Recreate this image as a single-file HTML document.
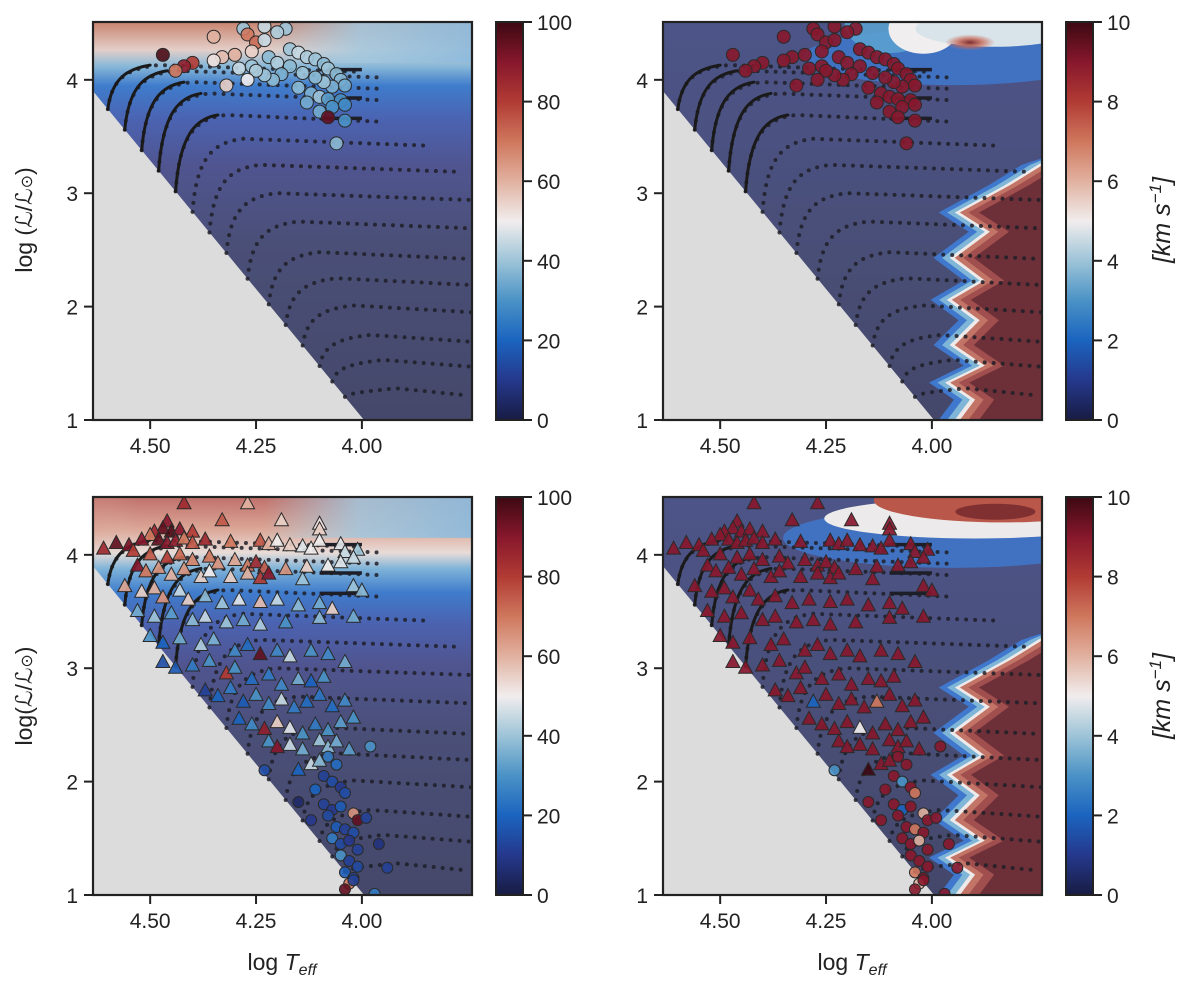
<!DOCTYPE html>
<html><head><meta charset="utf-8">
<style>
html,body{margin:0;padding:0;background:#fff;}
svg{display:block;font-family:"Liberation Sans",sans-serif;}
.tk{font-size:21px;fill:#222;}
</style></head>
<body>
<svg id="fig" width="1200" height="995" viewBox="0 0 1200 995" xmlns="http://www.w3.org/2000/svg">
<defs>
<linearGradient id="cmapV" x1="0" y1="1" x2="0" y2="0">
<stop offset="0" stop-color="#181c43"/><stop offset="0.1" stop-color="#25388c"/><stop offset="0.2" stop-color="#1b64bf"/><stop offset="0.3" stop-color="#4a92c6"/><stop offset="0.4" stop-color="#9dc4d8"/><stop offset="0.5" stop-color="#f1eded"/><stop offset="0.6" stop-color="#e1b1a0"/><stop offset="0.7" stop-color="#cf775d"/><stop offset="0.8" stop-color="#b13b34"/><stop offset="0.9" stop-color="#87172c"/><stop offset="1" stop-color="#3c0912"/>
</linearGradient>
<linearGradient id="bgL" x1="0" y1="0" x2="0" y2="1">
<stop offset="0" stop-color="#c98470"/><stop offset="0.07" stop-color="#e4cfc8"/><stop offset="0.11" stop-color="#8ab9d8"/><stop offset="0.16" stop-color="#3f7ccc"/><stop offset="0.25" stop-color="#4b62b0"/><stop offset="0.36" stop-color="#505590"/><stop offset="0.55" stop-color="#4a4f78"/><stop offset="1" stop-color="#45486a"/>
</linearGradient>
<linearGradient id="bgL2" x1="0" y1="0" x2="0" y2="1">
<stop offset="0" stop-color="#c0706a"/><stop offset="0.08" stop-color="#dba696"/><stop offset="0.14" stop-color="#e8dcd8"/><stop offset="0.18" stop-color="#7fb3d8"/><stop offset="0.24" stop-color="#3f7ccc"/><stop offset="0.32" stop-color="#4b62b0"/><stop offset="0.42" stop-color="#505590"/><stop offset="0.6" stop-color="#4a4f78"/><stop offset="1" stop-color="#45486a"/>
</linearGradient>
<linearGradient id="topFade" x1="0" y1="0" x2="1" y2="0">
<stop offset="0" stop-color="#9fc6de" stop-opacity="0"/><stop offset="0.45" stop-color="#a8cce0" stop-opacity="0"/><stop offset="0.7" stop-color="#a2c8df" stop-opacity="0.85"/><stop offset="1" stop-color="#8fbbdc" stop-opacity="0.95"/>
</linearGradient>
<linearGradient id="redFade" x1="0" y1="0" x2="1" y2="0">
<stop offset="0" stop-color="#7a2432" stop-opacity="0.95"/><stop offset="0.2" stop-color="#a8404a" stop-opacity="0.7"/><stop offset="0.45" stop-color="#d8907e" stop-opacity="0.3"/><stop offset="0.6" stop-color="#e8dcd8" stop-opacity="0"/>
</linearGradient>
<linearGradient id="bgR" x1="0" y1="0" x2="0" y2="1">
<stop offset="0" stop-color="#4d5588"/><stop offset="0.3" stop-color="#4b5180"/><stop offset="0.6" stop-color="#494e76"/><stop offset="1" stop-color="#44476a"/>
</linearGradient>
<radialGradient id="redSpot"><stop offset="0" stop-color="#7a2a30"/><stop offset="0.5" stop-color="#c86a58" stop-opacity="0.8"/><stop offset="1" stop-color="#c86a58" stop-opacity="0"/></radialGradient>
</defs>
<g id="panels"></g>
<text class="tk" transform="translate(32,220) rotate(-90)" text-anchor="middle" style="font-size:23px">log (ℒ/ℒ<tspan font-size="16">⊙</tspan>)</text>
<text class="tk" transform="translate(32,696) rotate(-90)" text-anchor="middle" style="font-size:23px">log(ℒ/ℒ<tspan font-size="16">⊙</tspan>)</text>
<text class="tk" x="282" y="970" text-anchor="middle" style="font-size:23px">log <tspan font-style="italic">T</tspan><tspan font-style="italic" font-size="16" dy="5">eff</tspan></text>
<text class="tk" x="852" y="970" text-anchor="middle" style="font-size:23px">log <tspan font-style="italic">T</tspan><tspan font-style="italic" font-size="16" dy="5">eff</tspan></text>
<text class="tk" transform="translate(1170,220) rotate(-90)" text-anchor="middle" style="font-size:25px;font-style:italic">[km s<tspan font-size="17" dy="-9">−1</tspan><tspan dy="9">]</tspan></text>
<text class="tk" transform="translate(1170,696) rotate(-90)" text-anchor="middle" style="font-size:25px;font-style:italic">[km s<tspan font-size="17" dy="-9">−1</tspan><tspan dy="9">]</tspan></text>
</svg>
<script>
// ---- data (log Teff, log L, values) ----
const xTicks=[4.50,4.25,4.00];
const yTicks=[1,2,3,4];
const cbTicksV=[0,20,40,60,80,100];
const cbTicksS=[0,2,4,6,8,10];
// top panels: circles
const topT=[4.28,4.23,4.18,4.27,4.25,4.26,4.30,4.33,4.35,4.40,4.42,4.44,4.47,4.29,4.26,4.22,4.20,4.17,4.15,4.13,4.11,4.09,4.08,4.06,4.05,4.04,4.07,4.09,4.11,4.14,4.17,4.19,4.21,4.23,4.25,4.27,4.15,4.12,4.10,4.13,4.08,4.05,4.04,4.07,4.10,4.08,4.04,4.06,4.32,4.23,4.20,4.35];
const topL=[4.45,4.47,4.45,4.40,4.33,4.25,4.22,4.20,4.17,4.15,4.12,4.08,4.22,4.10,4.12,4.20,4.15,4.27,4.24,4.20,4.18,4.14,4.10,4.05,4.00,3.95,3.94,3.98,4.02,4.06,4.12,4.05,4.00,4.04,4.08,4.00,3.93,3.88,3.85,3.80,3.83,3.82,3.78,3.76,3.72,3.67,3.64,3.44,3.95,4.35,4.42,4.38];
const topV=[40,45,40,70,72,55,60,58,52,80,88,70,98,45,40,38,42,40,45,42,40,38,40,38,37,35,36,40,38,40,38,36,38,40,42,50,38,36,40,35,32,30,28,30,35,95,30,38,55,45,42,60];
const topS=[9,9,9,9,9,9,9,9,9,9,9,9,9,9,9,9,9,9,9,9,9,9,9,9,9,9,9,9,9,9,9,9,9,9,9,9,9,9,9,9,9,9,9,9,9,9,9,9,9,9,9,9];
// bottom panels: triangles
const triT=[4.42,4.27,4.46,4.33,4.19,4.10,4.10,4.47,4.45,4.43,4.49,4.40,4.50,4.52,4.48,4.46,4.44,4.42,4.40,4.37,4.31,4.24,4.22,4.20,4.17,4.14,4.12,4.05,4.10,4.04,4.01,4.55,4.58,4.61,4.54,4.50,4.46,4.43,4.40,4.36,4.34,4.30,4.27,4.25,4.23,4.18,4.13,4.08,4.05,4.02,4.53,4.51,4.48,4.45,4.42,4.38,4.36,4.31,4.27,4.24,4.22,4.14,4.02,4.00,4.56,4.52,4.49,4.47,4.43,4.41,4.37,4.33,4.29,4.24,4.20,4.15,4.10,4.07,4.02,4.53,4.49,4.45,4.40,4.37,4.32,4.28,4.24,4.18,4.10,4.50,4.47,4.43,4.38,4.35,4.30,4.27,4.24,4.20,4.17,4.12,4.08,4.04,4.47,4.44,4.40,4.36,4.32,4.30,4.26,4.22,4.19,4.15,4.12,4.09,4.37,4.34,4.31,4.28,4.25,4.22,4.19,4.16,4.13,4.10,4.07,4.04,4.29,4.26,4.23,4.20,4.17,4.14,4.11,4.08,4.05,4.02,4.22,4.20,4.17,4.14,4.10,4.08,4.06,4.03,4.12,4.10,4.15];
const triL=[4.45,4.45,4.29,4.30,4.30,4.27,4.22,4.23,4.20,4.22,4.20,4.20,4.17,4.13,4.13,4.10,4.12,4.14,4.10,4.13,4.11,4.12,4.09,4.12,4.08,4.07,4.05,4.09,4.12,4.02,4.04,4.08,4.10,4.05,4.03,4.00,3.97,4.00,3.95,3.98,3.92,3.95,3.90,3.93,3.88,3.87,3.89,3.90,3.93,3.97,3.90,3.85,3.88,3.82,3.87,3.80,3.85,3.80,3.83,3.79,3.83,3.78,3.72,3.68,3.72,3.67,3.70,3.62,3.68,3.60,3.63,3.57,3.60,3.58,3.60,3.55,3.57,3.52,3.45,3.50,3.45,3.48,3.42,3.45,3.40,3.42,3.38,3.40,3.44,3.28,3.22,3.26,3.20,3.25,3.15,3.20,3.12,3.15,3.10,3.15,3.12,3.05,3.05,3.00,3.02,3.06,2.95,3.00,2.90,2.94,2.85,2.90,2.88,2.92,2.80,2.75,2.82,2.70,2.76,2.68,2.72,2.65,2.70,2.76,2.66,2.71,2.55,2.50,2.46,2.52,2.47,2.42,2.50,2.45,2.52,2.56,2.35,2.30,2.32,2.28,2.36,2.30,2.35,2.28,2.15,2.18,2.10];
const triV=[85,60,90,75,55,52,55,95,98,90,85,80,70,90,95,90,88,70,75,85,70,75,60,50,55,48,50,48,50,45,40,92,95,85,80,75,80,72,68,70,65,62,70,85,75,65,55,50,48,45,90,70,65,60,65,55,50,55,60,80,90,40,40,38,62,55,60,65,45,55,38,40,48,58,45,38,35,55,35,35,40,32,38,45,40,35,42,30,38,30,20,35,42,36,28,22,95,28,45,30,28,35,15,18,25,30,80,30,22,25,28,35,20,30,12,20,25,18,30,28,45,25,22,24,22,28,20,28,88,55,48,30,25,30,32,30,30,90,45,35,40,38,35,32,45,38,20];
const triS=[9,9,9,9,9,9,9,9,9,9,9,9,9,9,9,9,9,9,9,9,9,9,9,9,9,9,9,9,9,9,9,9,9,9,9,9,9,9,9,9,9,9,9,9,9,9,9,9,9,9,9,9,9,9,9,9,9,9,9,9,9,9,9,9,9,9,9,9,9,9,9,9,9,9,9,9,9,9,9,9,9,9,9,9,9,9,9,9,9,9,9,9,9,9,9,9,9,9,9,9,9,9,9,9,9,9,9,9,9,9,9,9,9,9,9,9,9,2,9,9,9,9,7,9,9,9,9,9,9,9,5,9,9,9,9,9,9,9,9,9,9,9,9,9,9,9];
// bottom panels: circles
const circT=[3.98,4.23,4.08,4.06,4.09,4.07,4.05,4.11,4.04,4.15,4.09,4.07,4.05,4.02,4.01,3.99,4.12,4.08,4.06,4.04,4.02,4.07,4.05,4.03,4.01,3.96,4.05,4.03,4.01,3.94,4.04,4.02,4.03,4.02,4.04,3.97];
const circL=[2.31,2.10,2.22,2.15,2.05,2.00,1.95,1.93,1.90,1.82,1.80,1.75,1.78,1.72,1.66,1.68,1.66,1.70,1.60,1.58,1.55,1.50,1.45,1.48,1.40,1.45,1.35,1.30,1.25,1.24,1.20,1.15,1.10,1.13,1.05,1.01];
const circV=[30,15,25,22,12,15,10,20,15,5,12,10,18,65,95,12,10,14,18,12,15,25,14,10,12,8,30,12,14,12,18,14,70,12,95,25];
const circS=[9,3,9,9,9,3,9,9,7,9,9,2,9,6,9,9,9,9,9,7,9,9,9,6,9,9,9,9,9,9,7,9,6,9,9,9];
// evolutionary tracks
const trkStartT=[4.60,4.56,4.52,4.48,4.44,4.40,4.36,4.32,4.27,4.22,4.18,4.14,4.10,4.07,4.04];
const trkEndL=[4.10,4.05,3.95,3.85,3.66,3.45,3.22,2.97,2.72,2.45,2.22,1.98,1.72,1.50,1.25];
const trkEndT=[4.00,3.95,3.95,3.95,3.95,3.85,3.78,3.74,3.74,3.74,3.74,3.74,3.74,3.74,3.76];
// right-panel zigzag boundary of high-velocity region
const zigT=[3.738,3.816,3.934,3.863,3.946,3.875,3.953,3.887,3.946,3.875,3.957,3.898,3.934];
const zigL=[3.25,3.07,2.83,2.66,2.43,2.23,2.06,1.88,1.66,1.48,1.33,1.18,1.00];

const NS='http://www.w3.org/2000/svg';
const stops=[[0,'#181c43'],[0.1,'#25388c'],[0.2,'#1b64bf'],[0.3,'#4a92c6'],[0.4,'#9dc4d8'],[0.5,'#f1eded'],[0.6,'#e1b1a0'],[0.7,'#cf775d'],[0.8,'#b13b34'],[0.9,'#87172c'],[1,'#3c0912']];
function hx(c){return [1,3,5].map(i=>parseInt(c.substr(i,2),16));}
function cmap(f){f=Math.max(0,Math.min(1,f));for(let i=1;i<stops.length;i++){if(f<=stops[i][0]){const a=stops[i-1],b=stops[i];const u=(f-a[0])/(b[0]-a[0]);const ca=hx(a[1]),cb=hx(b[1]);return 'rgb('+ca.map((v,k)=>Math.round(v+(cb[k]-v)*u)).join(',')+')';}}return stops[stops.length-1][1];}
function mk(tag,attrs,parent){const e=document.createElementNS(NS,tag);for(const k in attrs)e.setAttribute(k,attrs[k]);parent.appendChild(e);return e;}

const W=379,H=398,T0=4.635,T1=3.74,L0=1.0,L1=4.51;
const root=document.getElementById('panels');

function panel(x0,y0,kind,bottom,idx){
  const xs=t=>x0+(T0-t)/(T0-T1)*W;
  const ys=l=>y0+(L1-l)/(L1-L0)*H;
  const g=mk('g',{},root);
  
  
  const cp=mk('clipPath',{id:'cp'+idx},g);
  mk('rect',{x:x0,y:y0,width:W,height:H},cp);
  const pg=mk('g',{'clip-path':'url(#cp'+idx+')'},g);
  if(kind==='v'){
    const bg=mk('rect',{x:x0,y:y0,width:W,height:H,fill:bottom?'url(#bgL2)':'url(#bgL)'},pg);
    
    
    mk('rect',{x:x0,y:y0,width:W,height:(L1-4.15)/(L1-L0)*H,fill:'url(#topFade)'},pg);
    if(bottom){mk('ellipse',{cx:x0,cy:y0,rx:230,ry:55,fill:'url(#redFade)'},pg);}
  } else {
    const bg=mk('rect',{x:x0,y:y0,width:W,height:H,fill:'url(#bgR)'},pg);
    
    
    if(!bottom){
      mk('ellipse',{cx:xs(3.95),cy:ys(4.2),rx:150,ry:28,fill:'#3f78cc',opacity:0.85},pg);
      mk('ellipse',{cx:xs(4.1),cy:ys(4.5),rx:45,ry:30,fill:'#5aa0d0',opacity:0.9},pg);
      mk('ellipse',{cx:xs(4.02),cy:ys(4.45),rx:35,ry:25,fill:'#f0eeee'},pg);
      mk('ellipse',{cx:xs(3.85),cy:ys(4.45),rx:80,ry:18,fill:'#d8e4ea'},pg);
      mk('ellipse',{cx:xs(3.91),cy:ys(4.33),rx:25,ry:8,fill:'url(#redSpot)'},pg);
    } else {
      mk('ellipse',{cx:xs(3.95),cy:ys(4.15),rx:170,ry:30,fill:'#3f78cc',opacity:0.85},pg);
      mk('ellipse',{cx:xs(3.9),cy:ys(4.32),rx:150,ry:20,fill:'#eceaea'},pg);
      mk('ellipse',{cx:xs(3.83),cy:ys(4.48),rx:130,ry:22,fill:'#b9584a'},pg);
      mk('ellipse',{cx:xs(3.85),cy:ys(4.38),rx:40,ry:8,fill:'#6a2028',opacity:0.7},pg);
    }
    const layers=[[0.05,'#3f78cc'],[0.03,'#7fb6d8'],[0.012,'#efeaea'],[0,'#c27566'],[-0.02,'#a04e4e'],[-0.045,'#6e3038']];
    layers.forEach(([off,col])=>{
      let d='M'+xs(T1-0.05)+','+ys(zigL[0]+0.12);
      for(let i=0;i<zigT.length;i++){d+=' L'+xs(zigT[i]+off)+','+ys(zigL[i]);}
      d+=' L'+xs(zigT[zigT.length-1]+off)+','+ys(0.8)+' L'+xs(T1-0.05)+','+ys(0.8)+'Z';
      const p=mk('path',{d:d,fill:col},pg);
      
      
    });
  }
  const tri=mk('polygon',{points:xs(T0+0.02)+','+ys(3.9)+' '+xs(T0+0.02)+','+ys(0.9)+' '+xs(3.995)+','+ys(1.0)+' '+xs(4.635)+','+ys(3.9),fill:'#dcdcdc'},pg);
  
  
  const edgeL=t=>1+(t-3.995)/0.64*2.9;
  for(let i=0;i<trkStartT.length;i++){
    const t0=trkStartT[i],le=edgeL(t0),Le=trkEndL[i];
    const d='M'+xs(t0)+','+ys(le)+' C'+xs(t0-0.01)+','+ys(le+(Le-le)*0.8)+' '+xs(t0-0.05)+','+ys(Le)+' '+xs(t0-0.12)+','+ys(Le+0.03)+' L'+xs(trkEndT[i])+','+ys(Le-0.03);
    const p=mk('path',{d:d,fill:'none',stroke:'#1e1e28','stroke-width':4,'stroke-linecap':'round','stroke-dasharray':'0 9',opacity:0.85},pg);
    
    
    if(i<5){
      const d2='M'+xs(t0)+','+ys(le)+' C'+xs(t0-0.01)+','+ys(le+(Le-le)*0.8)+' '+xs(t0-0.05)+','+ys(Le)+' '+xs(t0-0.1)+','+ys(Le+0.03);
      mk('path',{d:d2,fill:'none',stroke:'#1a1a1a','stroke-width':3,'stroke-linecap':'round'},pg);
    }
  }
  [[4.09],[3.84],[3.66]].forEach(([l])=>{mk('line',{x1:xs(4.10),y1:ys(l),x2:xs(4.0),y2:ys(l),stroke:'#1e1e28','stroke-width':3.5},pg);});
  const vmax=kind==='v'?100:10;
  const drawC=(T,L,V,r)=>{for(let i=0;i<T.length;i++){const c=mk('circle',{cx:xs(T[i]),cy:ys(L[i]),r:r,fill:cmap(V[i]/vmax),stroke:'#2a2a2a','stroke-width':1,'fill-opacity':0.9},pg);}};
  const drawT=(T,L,V)=>{for(let i=0;i<T.length;i++){const x=xs(T[i]),y=ys(L[i]);const p=mk('polygon',{points:(x-7)+','+(y+5)+' '+(x+7)+','+(y+5)+' '+x+','+(y-8),fill:cmap(V[i]/vmax),stroke:'#2a2a2a','stroke-width':1,'fill-opacity':0.92},pg);}};
  if(!bottom){drawC(topT,topL,kind==='v'?topV:topS,6.5);}
  else {drawT(triT,triL,kind==='v'?triV:triS);drawC(circT,circL,kind==='v'?circV:circS,5.5);}
  const fr=mk('rect',{x:x0,y:y0,width:W,height:H,fill:'none',stroke:'#222','stroke-width':2.2},g);
  
  
  xTicks.forEach(t=>{const x=xs(t);mk('line',{x1:x,y1:y0+H,x2:x,y2:y0+H+9,stroke:'#222','stroke-width':2},g);
    const tx=mk('text',{x:x,y:y0+H+33,'text-anchor':'middle',class:'tk'},g);tx.textContent=t.toFixed(2);
    });
  yTicks.forEach(l=>{const y=ys(l);mk('line',{x1:x0-9,y1:y,x2:x0,y2:y,stroke:'#222','stroke-width':2},g);
    const tx=mk('text',{x:x0-15,y:y+8,'text-anchor':'end',class:'tk'},g);tx.textContent=l;
    });
  const cx=x0+403,cw=27;
  const cb=mk('rect',{x:cx,y:y0,width:cw,height:H,fill:'url(#cmapV)',stroke:'#222','stroke-width':2},g);
  
  
  const cbt=kind==='v'?cbTicksV:cbTicksS;
  cbt.forEach(v=>{const y=y0+H-(v/vmax)*H;mk('line',{x1:cx+cw,y1:y,x2:cx+cw+9,y2:y,stroke:'#222','stroke-width':2},g);
    const tx=mk('text',{x:cx+cw+14,y:y+8,class:'tk'},g);tx.textContent=v;
    });
}
panel(93,22,'v',false,'top-left');
panel(663,22,'s',false,'top-right');
panel(93,497,'v',true,'bottom-left');
panel(663,497,'s',true,'bottom-right');
</script>
</body></html>
